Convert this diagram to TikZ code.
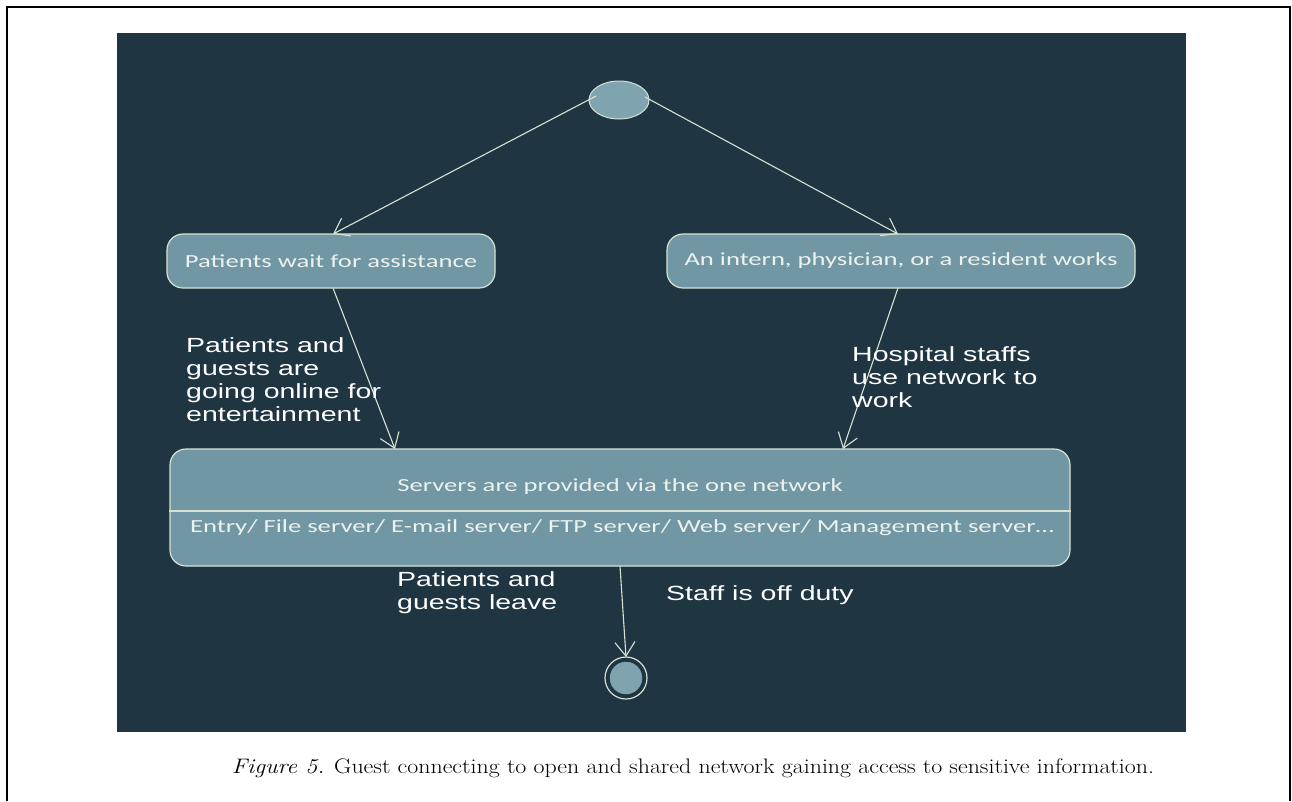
\documentclass[tikz,border=0pt]{standalone}
\usepackage{fontspec}
\usetikzlibrary{arrows.meta,shapes.geometric}
\newfontfamily\boxfont[FakeStretch=1.44]{Carlito}
\newfontfamily\lblfont[FakeStretch=1.39]{Liberation Sans}
\definecolor{bgdark}{RGB}{31,53,66}
\definecolor{boxfill}{RGB}{112,151,163}
\definecolor{ellfill}{RGB}{127,164,176}
\definecolor{edge}{RGB}{214,226,210}
\definecolor{boxtext}{RGB}{236,242,238}
\tikzset{
  boxtxt/.style={text=boxtext, font=\boxfont\fontsize{18.5}{21}\selectfont, inner sep=0pt},
  state/.style={boxtxt, draw=edge, line width=1.2pt, fill=boxfill, rounded corners=16pt},
  trans/.style={draw=edge, line width=1.1pt, -{Straight Barb[length=14pt,width=20pt,line width=1.1pt]}},
  lbl/.style={text=white, font=\lblfont\fontsize{20.5}{23}\selectfont, align=left, anchor=north west, inner sep=0pt},
}
\begin{document}
\begin{tikzpicture}[x=1pt,y=-1pt]
\useasboundingbox (0,0) rectangle (1292,801);
% page frame
\draw[line width=2.5pt] (7,801) -- (7,7) -- (1290,7) -- (1290,801);
% dark panel
\fill[bgdark] (117,33) rectangle (1186,732);
% initial state
\node[ellipse, draw=edge, line width=1pt, fill=ellfill, minimum width=60pt, minimum height=38pt, inner sep=0pt] (init) at (619,100) {};
% states
\node[state, minimum width=328pt, minimum height=54pt] (wait) at (331,261) {Patients wait for assistance};
\node[state, minimum width=468pt, minimum height=54pt] (work) at (901,261) {An intern, physician, or a resident works};
\node[state, minimum width=900pt, minimum height=117pt] (srv) at (620,507.5) {};
\draw[edge, line width=1.2pt] (srv.west |- 0,511) -- (srv.east |- 0,511);
\node[boxtxt] (srvt) at (620,487) {Servers are provided via the one network};
\node[boxtxt] (srva) at (622,528) {Entry/ File server/ E-mail server/ FTP server/ Web server/ Management server\ldots};
% final state
\node[circle, draw=edge, line width=1.2pt, fill=bgdark, minimum size=42pt, inner sep=0pt] (final) at (626,678) {};
\node[circle, fill=ellfill, draw=ellfill, minimum size=32pt, inner sep=0pt] (finalin) at (final) {};
% anchor points
\coordinate (i1) at (596,96);
\coordinate (i2) at (645,97);
\coordinate (w1) at (333,234);
\coordinate (k1) at (898,234);
\coordinate (w2) at (333,288);
\coordinate (k2) at (898,288);
\coordinate (s1) at (395,449);
\coordinate (s2) at (843,449);
\coordinate (s3) at (620,566);
\coordinate (f1) at (626,657);
\draw[trans] (i1) -- (w1);
\draw[trans] (i2) -- (k1);
\draw[trans] (w2) -- (s1);
\draw[trans] (k2) -- (s2);
\draw[trans] (s3) -- (f1);
% labels
\node[lbl] (l1) at (186,337) {Patients and\\guests are\\going online for\\entertainment};
\node[lbl] (l2) at (852,346) {Hospital staffs\\use network to\\work};
\node[lbl] (l3) at (397,571) {Patients and\\guests leave};
\node[lbl] (l4) at (666,585) {Staff is off duty};
% caption
\node[inner sep=0pt] (cap) at (693,768) {\scalebox{1.138}[1]{\fontsize{21}{24}\selectfont\textit{Figure 5.} Guest connecting to open and shared network gaining access to sensitive information.}};
\end{tikzpicture}
\end{document}
